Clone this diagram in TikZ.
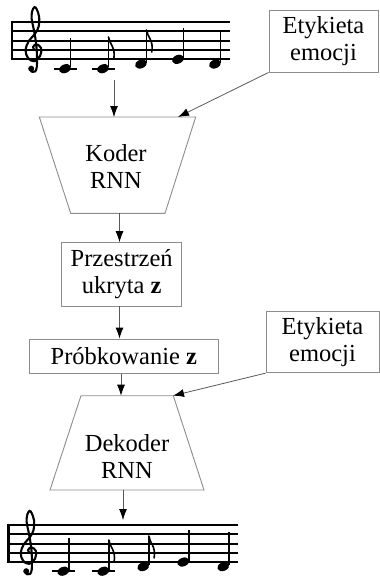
\documentclass[tikz,border=0pt]{standalone}
\usepackage{fontspec}
\setmainfont{Liberation Serif}
\usetikzlibrary{arrows.meta}
\tikzset{
  lbl/.style={font=\fontsize{24.5}{27}\selectfont, align=center},
  box/.style={draw=black!45, line width=0.9pt, inner sep=0pt, lbl},
  trap/.style={draw=black!45, line width=0.9pt},
  arr/.style={draw=black!65, line width=0.8pt, -{Latex[black,length=11pt,width=8pt]}},
  staffl/.style={line width=2pt},
  stemline/.style={line width=1.4pt},
  flagline/.style={line width=1.6pt, line cap=round},
  ledgerline/.style={line width=2pt},
  clefline/.style={line width=2.1pt, line cap=round}
}
\newcommand\mystaff[4]{%
  \foreach \i in {0,...,4} {\draw[staffl] (#1,{#3+\i*#4}) -- (#2,{#3+\i*#4});}
  \draw[line width=2.8pt] (#1,{#3-1}) -- (#1,{#3+4*#4+1});
}
\newcommand\myqnote[3]{%
  \fill[rotate around={22:(#1,#2)}] (#1,#2) ellipse [x radius=6.2pt, y radius=4.3pt];
  \draw[stemline] ({#1+5.5},{#2-1.5}) -- ({#1+5.5},#3);
}
\newcommand\myenote[3]{%
  \myqnote{#1}{#2}{#3}%
  \draw[flagline] ({#1+5.5},#3) .. controls ({#1+6.3},{#3+7}) and ({#1+12.8},{#3+10}) .. ({#1+10.8},{#3+22});
}
\newcommand\myledger[2]{\draw[ledgerline] ({#1-11.5},#2) -- ({#1+11.5},#2);}
\newcommand\myclef[3]{% x, bottom line y, spacing
  \begin{scope}[shift={(#1,#2)}, x=#3pt, y=#3pt]
    \draw[clefline] plot[smooth, tension=0.6] coordinates {(0.05,1.0) (-0.1,1.3) (0.25,1.6) (0.75,1.2) (0.65,0.35) (0.0,-0.2) (-0.65,0.15) (-0.9,1.0) (-0.55,1.95) (0.1,2.7) (0.5,3.5) (0.55,4.5) (0.3,5.3) (0.05,5.55) (-0.2,5.1) (-0.25,4.3) (-0.05,3.3) (0.15,2.2) (0.3,0.8) (0.3,-0.8) (0.1,-1.3) (-0.3,-1.3)};
    \fill (-0.3,-1.0) circle (3pt);
  \end{scope}
}
\begin{document}
\begin{tikzpicture}[x=1pt,y=-1pt]
\useasboundingbox (0,0) rectangle (380,581);

% ---- top staff ----
\mystaff{12}{230}{21.7}{9.4}
\myclef{34}{59.3}{9.4}
\myledger{65}{68.7}
\myqnote{65}{68.7}{38}
\myledger{103}{68.7}
\myenote{103}{68.7}{37}
\myenote{141}{64}{30}
\myqnote{178}{59.3}{28}
\myqnote{215}{64}{30}
\coordinate (staffA) at (114,80);

% ---- encoder ----
\draw[trap] (39.3,117) -- (195.7,117) -- (165,213.3) -- (70.7,213.3) -- cycle;
\node[lbl] (enc) at (116,166) {Koder\\RNN};
\coordinate (encIn) at (114,117);
\coordinate (encLab) at (178,117);
\coordinate (encOut) at (119.5,213.3);

% ---- label boxes ----
\node[box, minimum width=109pt, minimum height=62pt] (et1) at (323.5,41) {Etykieta\\emocji};
\node[box, minimum width=113pt, minimum height=61pt] (et2) at (322.5,342.2) {Etykieta\\emocji};

% ---- latent ----
\node[box, minimum width=120pt, minimum height=63.3pt] (pz) at (121.7,274.3) {Przestrze\'n\\ukryta \textbf{z}};
\node[box, minimum width=189pt, minimum height=34.3pt] (pr) at (123.8,356.2) {Próbkowanie \textbf{z}};

% ---- decoder ----
\draw[trap] (81,395.7) -- (173.3,395.7) -- (204,490) -- (50,490) -- cycle;
\node[lbl] (dec) at (127,456) {Dekoder\\RNN};
\coordinate (decIn) at (121,395.7);
\coordinate (decLab) at (173,395.7);
\coordinate (decOut) at (123,490);

% ---- bottom staff ----
\mystaff{8.3}{238}{525.2}{9.2}
\myclef{29}{562}{9.2}
\myledger{63.3}{571.2}
\myqnote{63.3}{571.2}{538}
\myledger{103.3}{571.2}
\myenote{103.3}{571.2}{540}
\myenote{143.3}{566.6}{536}
\myqnote{183.3}{562}{530}
\myqnote{223.3}{566.6}{532}
\coordinate (staffB) at (123,520);

% ---- connectors ----
\draw[arr] (staffA) -- (encIn);
\draw[arr] (et1.south west) -- (encLab);
\draw[arr] (encOut) -- (encOut |- pz.north);
\draw[arr] (pz.south -| encOut) -- (pr.north -| encOut);
\draw[arr] (pr.south -| decIn) -- (decIn);
\draw[arr] (et2.south west) -- (decLab);
\draw[arr] (decOut) -- (staffB);
\end{tikzpicture}
\end{document}
